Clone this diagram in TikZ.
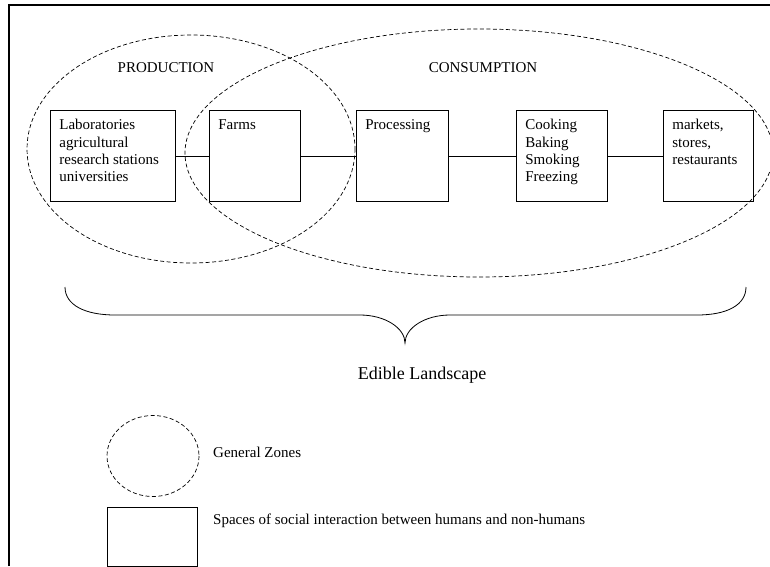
\documentclass[tikz,border=0pt]{standalone}
\usepackage{fontspec}
\setmainfont{Liberation Serif}
\usetikzlibrary{positioning}

\tikzset{
    zone/.style = {dash pattern = on 4pt off 2.5pt, line width = .7pt},
    stage/.style = {draw, rectangle, line width = .8pt, inner sep = 9pt,
        anchor = north west},
    link/.style = {line width = .8pt},
    caption/.style = {inner sep = 0, anchor = west}
}
\newcommand{\stagetext}[2]{\parbox[c][73pt][t]{#1}{\raggedright #2}}

\begin{document}
\begin{tikzpicture}[x = 1pt, y = -1pt]
    \fontsize{15}{17.3}\selectfont
    \useasboundingbox (0, 0) rectangle (770, 566);

    %% frame
    \draw[line width = 2.2pt] (9, 566) -- (9, 5) -- (770, 5);

    %% zones
    \draw[zone] (191, 149) ellipse [x radius = 164, y radius = 114];
    \draw[zone] (479, 153) ellipse [x radius = 294, y radius = 124];
    \node (prod) at (166, 68) {PRODUCTION};
    \node (cons) at (483, 68) {CONSUMPTION};

    %% spaces
    \node[stage] (lab) at (50, 110) {\stagetext{107pt}{Laboratories\\
        agricultural\\ research stations\\ universities}};
    \node[stage] (farm) at (209, 110) {\stagetext{73pt}{Farms}};
    \node[stage] (proc) at (356, 110) {\stagetext{74pt}{Processing}};
    \node[stage] (cook) at (516, 110) {\stagetext{73pt}{Cooking\\ Baking\\
        Smoking\\ Freezing}};
    \node[stage] (shop) at (663, 110) {\stagetext{72pt}{markets,\\ stores,\\
        restaurants}};

    \draw[link] (lab) -- (farm);
    \draw[link] (farm) -- (proc);
    \draw[link] (proc) -- (cook);
    \draw[link] (cook) -- (shop);

    %% brace
    \draw[line width = .8pt] (65, 287) .. controls (65, 305) and (85, 315) .. (115, 315)
        -- (360, 315) .. controls (385, 315) and (405, 328) .. (405, 343)
        .. controls (405, 328) and (425, 315) .. (450, 315)
        -- (697, 315) .. controls (727, 315) and (746, 305) .. (746, 287);
    \node[font = \fontsize{18}{21}\selectfont] (land) at (422, 375) {Edible Landscape};

    %% legend
    \draw[zone] (153, 456) ellipse [x radius = 46, y radius = 40.5];
    \node[caption] (zonekey) at (213, 452) {General Zones};
    \node[draw, line width = .8pt, anchor = north west, minimum width = 90pt,
        minimum height = 59pt, inner sep = 0] (spacekey) at (107, 507) {};
    \node[caption] (spacetext) at (213, 521)
        {Spaces of social interaction between humans and non-humans};
\end{tikzpicture}
\end{document}
